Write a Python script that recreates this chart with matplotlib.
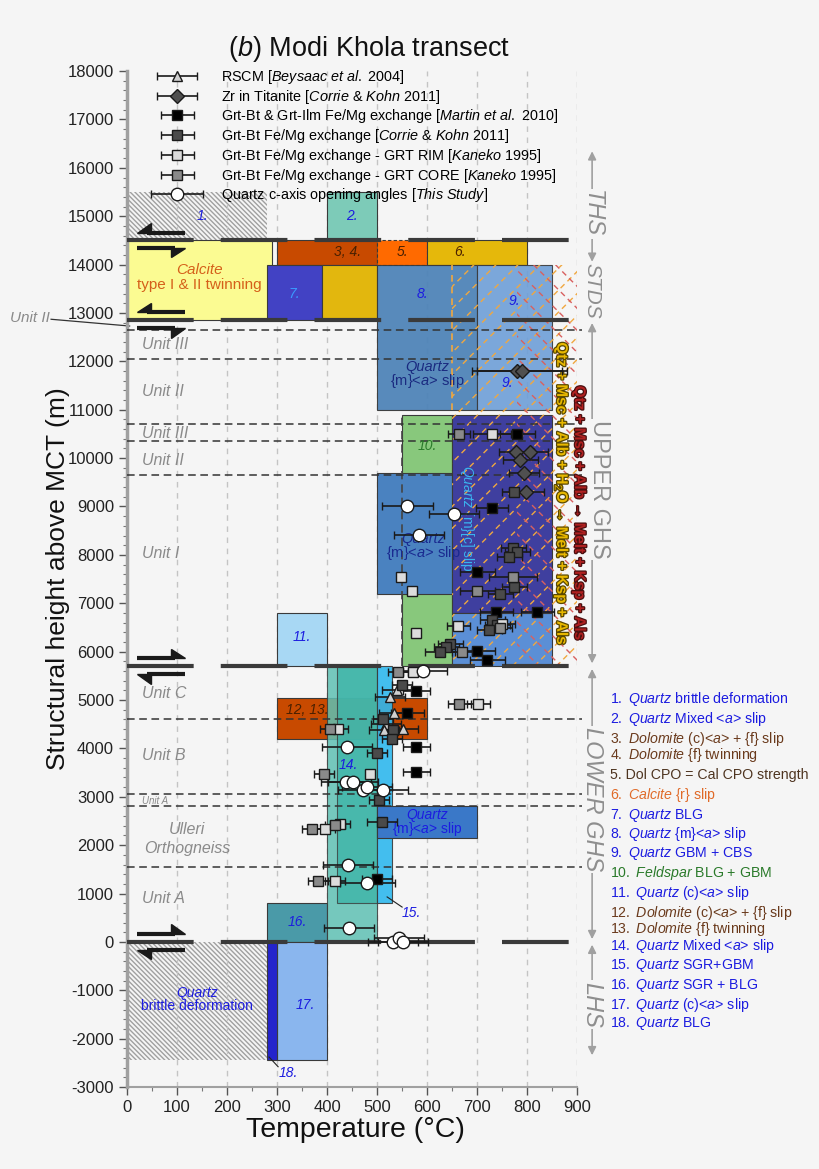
import numpy as np
import matplotlib.pyplot as plt
from matplotlib.patches import Rectangle, Polygon
from matplotlib.ticker import MultipleLocator
from matplotlib.legend_handler import HandlerErrorbar
import matplotlib.patheffects as pe

plt.rcParams['font.family'] = ['Liberation Sans', 'DejaVu Sans']
plt.rcParams['mathtext.fontset'] = 'custom'
plt.rcParams['mathtext.rm'] = 'Liberation Sans'
plt.rcParams['mathtext.it'] = 'Liberation Sans:italic'
plt.rcParams['axes.unicode_minus'] = False
plt.rcParams['hatch.linewidth'] = 1.0

# ---- data (temperature in C, structural height in m) ----
rscm_T = [540, 526, 534, 518, 514, 552]
rscm_H = [5210, 5070, 4730, 4500, 4380, 4400]
rscm_err = [30, 30, 30, 30, 30, 30]

zr_T = [780, 790, 778, 806, 786, 794, 798]
zr_H = [11800, 11800, 10130, 10130, 9960, 9690, 9300]
zr_err = [90, 90, 35, 35, 35, 30, 35]

martin_T = [780, 730, 700, 738, 820, 700, 720, 578, 560, 578, 578, 500]
martin_H = [10500, 8970, 7650, 6820, 6820, 6010, 5830, 5190, 4730, 4030, 3510, 1300]
martin_err = [35, 32, 35, 33, 33, 35, 35, 27, 33, 27, 27, 30]

ck_T = [774, 772, 780, 764, 774, 746, 730, 740, 724, 646, 638, 626, 550, 512, 532, 530, 500, 504, 510]
ck_H = [9300, 8140, 8060, 7960, 7330, 7200, 6650, 6560, 6450, 6160, 6100, 5990, 5310, 4610, 4380, 4200, 3900, 2930, 2480]
ck_err = [25, 25, 25, 25, 25, 25, 25, 25, 25, 25, 25, 30, 20, 20, 20, 20, 20, 20, 30]

rim_T = [730, 548, 570, 662, 750, 578, 572, 702, 422, 486, 396, 426, 416]
rim_H = [10500, 7545, 7255, 6530, 6580, 6390, 5580, 4920, 4400, 3470, 2330, 2440, 1260]
rim_err = [38, 0, 0, 23, 25, 0, 20, 23, 20, 0, 20, 20, 20]

core_T = [664, 772, 700, 745, 670, 542, 664, 406, 394, 370, 416, 382]
core_H = [10500, 7540, 7255, 6480, 5990, 5580, 4920, 4400, 3470, 2330, 2420, 1260]
core_err = [22, 48, 35, 25, 20, 20, 23, 20, 20, 20, 20, 20]

qtz_T = [560, 654, 584, 592, 440, 438, 452, 472, 480, 512, 442, 480, 444, 532, 544, 552]
qtz_H = [9020, 8850, 8410, 5600, 4030, 3300, 3300, 3140, 3200, 3140, 1590, 1220, 290, 0, 80, 0]
qtz_err = [51, 50, 50, 48, 50, 50, 50, 50, 50, 50, 50, 55, 50, 50, 50, 50]

# deformation / mechanism fields: (Tmin, Tmax, Hmin, Hmax)
fields = {
    'hatch1': (0, 280, 14500, 15500),
    'f2': (400, 500, 14500, 15500),
    'calcite': (0, 290, 12850, 14500),
    'f34': (300, 500, 14000, 14500),
    'f5': (500, 600, 14000, 14500),
    'f6': (600, 800, 14000, 14500),
    'f7': (280, 390, 12850, 14000),
    'gold': (390, 500, 12850, 14000),
    'f8': (500, 700, 11000, 14000),
    'f9': (700, 850, 11000, 14000),
    'f10': (550, 650, 5700, 10900),
    'qz_up': (500, 650, 7200, 9700),
    'qz_mc': (650, 850, 6800, 10900),
    'qz_low9': (650, 850, 5700, 6800),
    'f11': (300, 400, 5700, 6800),
    'f1213': (300, 600, 4200, 5050),
    'f16': (280, 400, 0, 800),
    'f14a': (400, 500, 0, 5700),
    'f14b': (420, 500, 800, 5700),
    'f15': (500, 530, 800, 5700),
    'qz_lgs': (500, 700, 2150, 2800),
    'hatch_lhs': (0, 280, -2450, 0),
    'f17': (300, 400, -2450, 0),
    'f18': (280, 300, -2450, 0),
}
colors = {
    'f2': '#7dcbb8', 'calcite': '#fbfb92', 'f34': '#c84a00', 'f5': '#ff6a00',
    'f6': '#e5b80b', 'f7': '#4242c4', 'gold': '#e2b70e', 'f8': '#4f84b8',
    'f9': '#6e9fd8', 'f10': '#88c87c', 'qz_up': '#4a82c0', 'qz_mc': '#3f3f9f',
    'qz_low9': '#5b8fd6', 'f11': '#a8d8f4', 'f1213': '#c84a00', 'f16': '#4a9aa8',
    'f14a': '#5fc0b4', 'f14b': '#3db4a8', 'f15': '#30b8ee', 'qz_lgs': '#3a78c8',
    'f17': '#8ab6ee', 'f18': '#2424cc',
}
alphas = {'f14a': 0.85, 'f14b': 0.8, 'f15': 0.9, 'f8': 0.95, 'f9': 0.9}

thin_bounds = [12650, 12050, 10700, 10350, 9650, 4600, 3050, 2800, 1550]
thick_bounds = [14500, 12850, 5700, 0]

units = ['Unit III', 'Unit II', 'Unit III', 'Unit II', 'Unit I', 'Unit C', 'Unit B', 'Unit A']
unit_H = [12350, 11370, 10500, 9960, 8030, 5130, 3850, 890]

sections = ['THS', 'STDS', 'UPPER GHS', 'LOWER GHS', 'LHS']
section_top = [16400, 14000, 12850, 5700, 0]
section_bot = [14000, 12850, 5700, 0, -2400]
section_txt_H = [15050, 13450, 9350, 2950, -1300]

blue = '#1c1ce0'
brown = '#6a3a1c'
items = [
    (r'$\mathit{1.\ Quartz}$ brittle deformation', blue),
    (r'$\mathit{2.\ Quartz}$ Mixed <$\mathit{a}$> slip', blue),
    (r'$\mathit{3.\ Dolomite}$ (c)<$\mathit{a}$> + {f} slip', brown),
    (r'$\mathit{4.\ Dolomite}$ {f} twinning', brown),
    ('5. Dol CPO = Cal CPO strength', '#4e3420'),
    (r'$\mathit{6.\ Calcite}$ {r} slip', '#e06a28'),
    (r'$\mathit{7.\ Quartz}$ BLG', blue),
    (r'$\mathit{8.\ Quartz}$ {m}<$\mathit{a}$> slip', blue),
    (r'$\mathit{9.\ Quartz}$ GBM + CBS', blue),
    (r'$\mathit{10.\ Feldspar}$ BLG + GBM', '#2a7a2a'),
    (r'$\mathit{11.\ Quartz}$ (c)<$\mathit{a}$> slip', blue),
    (r'$\mathit{12.\ Dolomite}$ (c)<$\mathit{a}$> + {f} slip', brown),
    (r'$\mathit{13.\ Dolomite}$ {f} twinning', brown),
    (r'$\mathit{14.\ Quartz}$ Mixed <$\mathit{a}$> slip', blue),
    (r'$\mathit{15.\ Quartz}$ SGR+GBM', blue),
    (r'$\mathit{16.\ Quartz}$ SGR + BLG', blue),
    (r'$\mathit{17.\ Quartz}$ (c)<$\mathit{a}$> slip', blue),
    (r'$\mathit{18.\ Quartz}$ BLG', blue),
]
item_y = [699, 719, 739, 755, 775, 795, 815, 834, 854, 873, 893, 913, 929, 946, 966, 985, 1005, 1023]

bg = '#f5f5f5'
fig = plt.figure(figsize=(8.2, 11.69), dpi=100, facecolor=bg)
ax = fig.add_axes([0.155, 0.0701, 0.5488, 0.8691], facecolor=bg)
ax.set_xlim(0, 900)
ax.set_ylim(-3000, 18000)

ax.xaxis.set_major_locator(MultipleLocator(100))
ax.xaxis.set_minor_locator(MultipleLocator(50))
ax.yaxis.set_major_locator(MultipleLocator(1000))
ax.yaxis.set_minor_locator(MultipleLocator(200))
ax.grid(axis='x', which='major', color='#c4c4c4', ls=(0, (4, 4)), lw=1, zorder=0)
ax.tick_params(which='major', length=6, width=1, color='#555', labelsize=12, labelcolor='#222')
ax.tick_params(which='minor', length=3, width=0.8, color='#777')
for s in ['top', 'right']:
    ax.spines[s].set_visible(False)
ax.spines['left'].set_color('#a0a0a0')
ax.spines['left'].set_linewidth(2.5)
ax.spines['bottom'].set_color('#a0a0a0')
ax.spines['bottom'].set_linewidth(1.5)

# ---- fields ----
for name, (t0, t1, h0, h1) in fields.items():
    if name.startswith('hatch'):
        ax.add_patch(Rectangle((t0, h0), t1 - t0, h1 - h0, facecolor='none',
                               edgecolor='#a0a0a0', lw=0, hatch='\\' * 7, zorder=1))
        continue
    ls = (0, (3, 2)) if name == 'f5' else '-'
    ax.add_patch(Rectangle((t0, h0), t1 - t0, h1 - h0, facecolor=colors[name],
                           edgecolor='#3a3a3a', lw=0.8, ls=ls,
                           alpha=alphas.get(name, 1.0), zorder=2))

# dashed hatching for melting reactions
def dashed_hatch(t0, t1, h0, h1, color, sense, step):
    clip = Rectangle((t0, h0), t1 - t0, h1 - h0, transform=ax.transData)
    k = 10.33  # m per C for 45 degrees on screen
    for c in np.arange(t0 - (h1 - h0) / k, t1 + step, step):
        tt = np.array([c, c + (h1 - h0) / k])
        hh = h0 + (tt - c) * k if sense > 0 else h1 - (tt - c) * k
        ln, = ax.plot(tt, hh, color=color, lw=1.0, ls=(0, (4, 3)), zorder=3)
        ln.set_clip_path(clip)

dashed_hatch(650, 900, 5700, 14000, '#f0a840', 1, 44)
dashed_hatch(780, 900, 5700, 14000, '#d86060', -1, 44)
ax.plot([650, 650], [11000, 14000], color='#f0a840', lw=1.2, ls=(0, (4, 3)), zorder=3)
ax.plot([550, 550], [5700, 10900], color='#444', lw=1.2, ls=(0, (5, 3)), zorder=3)

# unit boundaries
for h in thin_bounds:
    ax.plot([0, 910], [h, h], color='#333', lw=1.1, ls=(0, (5, 3)), zorder=4, clip_on=False)
for h in thick_bounds:
    ax.plot([0, 900], [h, h], color='#3a3a3a', lw=3, ls=(0, (16, 6.5)), zorder=5,
            solid_capstyle='butt')

# shear sense half arrows
def shear(h, d, barb):
    tail, tip = (115, 20) if d < 0 else (20, 115)
    ax.plot([tail, tip - d * 20], [h, h], color='#1a1a1a', lw=3, zorder=6,
            solid_capstyle='butt')
    ax.add_patch(Polygon([[tip, h], [tip - d * 28, h], [tip - d * 28, h + barb * 190]],
                         closed=True, color='#1a1a1a', zorder=6))

shear(14660, -1, 1); shear(14340, 1, -1)
shear(13020, -1, 1); shear(12680, 1, -1)
shear(5870, 1, 1); shear(5530, -1, -1)
shear(170, 1, 1); shear(-170, -1, -1)

# ---- data points ----
eb = dict(ecolor='#1a1a1a', elinewidth=1.2, capsize=3, capthick=1.2, mec='#1a1a1a',
          mew=1, ls='none', zorder=10)
c_rscm = ax.errorbar(rscm_T, rscm_H, xerr=rscm_err, fmt='^', mfc='#d0d0d0', ms=7,
                     label=r'RSCM [$\mathit{Beysaac\ et\ al.}$ 2004]', **eb)
c_zr = ax.errorbar(zr_T, zr_H, xerr=zr_err, fmt='D', mfc='#505050', ms=7,
                   label=r'Zr in Titanite [$\mathit{Corrie\ &\ Kohn}$ 2011]', **eb)
c_mar = ax.errorbar(martin_T, martin_H, xerr=martin_err, fmt='s', mfc='#000000', ms=7,
                    label=r'Grt-Bt & Grt-Ilm Fe/Mg exchange [$\mathit{Martin\ et\ al.}$ 2010]', **eb)
c_ck = ax.errorbar(ck_T, ck_H, xerr=ck_err, fmt='s', mfc='#4a4a4a', ms=7,
                   label=r'Grt-Bt Fe/Mg exchange [$\mathit{Corrie\ &\ Kohn}$ 2011]', **eb)
c_rim = ax.errorbar(rim_T, rim_H, xerr=rim_err, fmt='s', mfc='#dcdcdc', ms=7,
                    label=r'Grt-Bt Fe/Mg exchange - GRT RIM [$\mathit{Kaneko}$ 1995]', **eb)
c_core = ax.errorbar(core_T, core_H, xerr=core_err, fmt='s', mfc='#8a8a8a', ms=7,
                     label=r'Grt-Bt Fe/Mg exchange - GRT CORE [$\mathit{Kaneko}$ 1995]', **eb)
c_qtz = ax.errorbar(qtz_T, qtz_H, xerr=qtz_err, fmt='o', mfc='white', ms=9,
                    label=r'Quartz c-axis opening angles [$\mathit{This\ Study}$]', **eb)

hmap = {c_rscm: HandlerErrorbar(xerr_size=1.4), c_zr: HandlerErrorbar(xerr_size=1.4),
        c_mar: HandlerErrorbar(xerr_size=1.15), c_ck: HandlerErrorbar(xerr_size=1.15),
        c_rim: HandlerErrorbar(xerr_size=1.15), c_core: HandlerErrorbar(xerr_size=1.15),
        c_qtz: HandlerErrorbar(xerr_size=1.8)}
leg = ax.legend(loc='upper left', bbox_to_anchor=(0.055, 1.003), frameon=False,
                fontsize=10.4, handlelength=3.5, handletextpad=1.3, labelspacing=0.12,
                borderpad=0, borderaxespad=0, handler_map=hmap)
leg.set_zorder(12)

# ---- field labels ----
def lab(t, h, s, c=blue, size=10, style='italic', **kw):
    ax.text(t, h, s, color=c, fontsize=size, style=style, ha='center', va='center',
            zorder=9, **kw)

dk = '#4a2000'
lab(150, 15000, '1.'); lab(450, 15000, '2.')
lab(440, 14250, '3, 4.', dk); lab(550, 14250, '5.', dk); lab(665, 14250, '6.', dk)
lab(335, 13400, '7.', '#3a9aff'); lab(590, 13400, '8.'); lab(775, 13250, '9.')
lab(760, 11550, '9.'); lab(600, 10250, '10.', '#2a7a2a'); lab(350, 6300, '11.')
lab(360, 4800, '12, 13.', dk); lab(443, 3650, '14.'); lab(568, 600, '15.')
lab(340, 420, '16.'); lab(357, -1300, '17.'); lab(322, -2700, '18.')
ax.plot([520, 550], [930, 720], color='#222', lw=0.8, zorder=9)
ax.plot([284, 302], [-2380, -2580], color='#222', lw=0.8, zorder=9)

lab(145, 13880, 'Calcite', '#d5601a', 11)
lab(145, 13570, 'type I & II twinning', '#d5601a', 11, 'normal')
lab(600, 11880, 'Quartz', '#1a2a80', 10.5)
lab(600, 11590, r'{m}<$\mathit{a}$> slip', '#1a2a80', 10.5, 'normal')
lab(592, 8330, 'Quartz', '#1a2a90', 10.5)
lab(592, 8040, r'{m}<$\mathit{a}$> slip', '#1a2a90', 10.5, 'normal')
lab(600, 2620, 'Quartz', blue, 10)
lab(600, 2330, r'{m}<$\mathit{a}$> slip', blue, 10, 'normal')
lab(680, 8750, r'$\mathit{Quartz}$ {m}[c] slip', '#3ab4f0', 10, 'normal', rotation=-90)
lab(140, -1060, 'Quartz', blue, 10)
lab(140, -1330, 'brittle deformation', blue, 10, 'normal')

# reaction texts
ax.text(868, 9260, r'Qtz + Msc + Alb + H$_2$O → Melt + Ksp + Als', color='#e8b800',
        fontsize=11, weight='bold', rotation=-90, ha='center', va='center', zorder=9,
        path_effects=[pe.withStroke(linewidth=1.8, foreground='#5a4800')], clip_on=False)
ax.text(904, 8870, 'Qtz + Msc + Alb → Melt + Ksp + Als', color='#b02020',
        fontsize=11, weight='bold', rotation=-90, ha='center', va='center', zorder=9,
        path_effects=[pe.withStroke(linewidth=1.8, foreground='#4a1010')], clip_on=False)

# unit names
for name, h in zip(units, unit_H):
    ax.text(30, h, name, color='#8a8a8a', fontsize=11.5, style='italic', va='center', zorder=9)
ax.text(30, 2910, 'Unit A', color='#8a8a8a', fontsize=7, style='italic', va='center', zorder=9)
ax.text(120, 2320, 'Ulleri', color='#8a8a8a', fontsize=11.5, style='italic',
        ha='center', va='center', zorder=9)
ax.text(120, 1930, 'Orthogneiss', color='#8a8a8a', fontsize=11.5, style='italic',
        ha='center', va='center', zorder=9)
ax.text(-155, 12900, 'Unit II', color='#8a8a8a', fontsize=11, style='italic',
        ha='right', va='center', clip_on=False)
ax.plot([-152, 5], [12870, 12730], color='#333', lw=0.9, clip_on=False)

# tectonic units on the right
for name, top, bot, th in zip(sections, section_top, section_bot, section_txt_H):
    ax.annotate('', xy=(930, top), xytext=(930, bot), annotation_clip=False,
                arrowprops=dict(arrowstyle='<|-|>', color='#a0a0a0', lw=1.2,
                                shrinkA=2, shrinkB=2, mutation_scale=12))
    tx = 944 if name == 'UPPER GHS' else 930
    ax.text(tx, th, name, color='#8e8e8e', fontsize=15 if name == 'STDS' else 17,
            rotation=-90, style='normal' if name == 'UPPER GHS' else 'italic',
            ha='center', va='center', clip_on=False,
            bbox=dict(fc=bg, ec='none', pad=1.0))

# mechanism key
for (s, c), y in zip(items, item_y):
    fig.text(610 / 820, 1 - y / 1169, s, color=c, fontsize=10.2, va='center')

fig.text(369 / 820, 1 - 49 / 1169, r'($\mathit{b}$) Modi Khola transect', fontsize=19.5,
         ha='center', va='center', color='#111')
fig.text(58 / 820, 1 - 579 / 1169, 'Structural height above MCT (m)', fontsize=19,
         rotation=90, ha='center', va='center', color='#111')
fig.text(355 / 820, 1 - 1130 / 1169, 'Temperature (°C)', fontsize=20.5,
         ha='center', va='center', color='#111')

fig.savefig('out.png', dpi=100, facecolor=bg)
